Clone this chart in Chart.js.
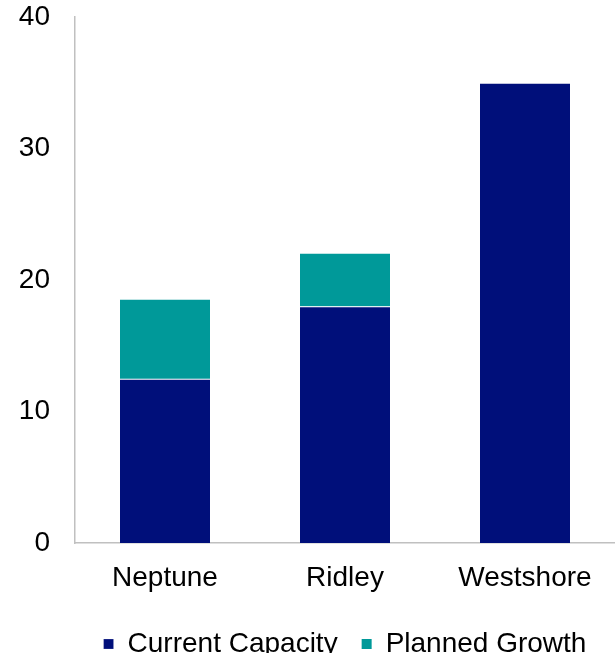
<!DOCTYPE html>
<html>
<head>
<meta charset="utf-8">
<script src="https://cdn.jsdelivr.net/npm/chart.js@4"></script>
<style>
  html, body { margin: 0; padding: 0; background: #fff; }
  #wrap { width: 615px; height: 653px; }
</style>
</head>
<body>
<div id="wrap"><canvas id="grafico"></canvas></div>
<script>
const categorias = ['Neptune', 'Ridley', 'Westshore'];
const capacidadeAtual = [12.5, 18, 35];
const crescimentoPlanejado = [6, 4, 0];
const ticksY = [0, 10, 20, 30, 40];

const fonte = { family: 'Arial, "Liberation Sans", sans-serif', size: 28 };

new Chart(document.getElementById('grafico'), {
  type: 'bar',
  data: {
    labels: categorias,
    datasets: [
      {
        label: 'Current Capacity',
        data: capacidadeAtual,
        backgroundColor: '#000F7A',
        borderColor: 'rgba(255,255,255,0.8)',
        borderWidth: { top: 1 },
        borderSkipped: false
      },
      {
        label: 'Planned Growth',
        data: crescimentoPlanejado,
        backgroundColor: '#009999',
        borderColor: 'rgba(255,255,255,0.8)',
        borderWidth: 0
      }
    ]
  },
  options: {
    responsive: true,
    maintainAspectRatio: false,
    animation: false,
    categoryPercentage: 1,
    barPercentage: 0.5,
    // a legenda fica meio cortada embaixo, como no original
    layout: { padding: { top: 0, right: 0, bottom: -15, left: 0 } },
    plugins: {
      tooltip: { enabled: false },
      legend: {
        position: 'bottom',
        fullSize: false,
        labels: {
          font: fonte,
          color: '#000',
          boxWidth: 10,
          boxHeight: 10,
          padding: 24
        }
      }
    },
    scales: {
      x: {
        stacked: true,
        afterFit: (eixo) => { eixo.height = 63; },
        grid: { display: false, drawTicks: false },
        border: { display: true, color: '#c0c0c0', width: 1.5 },
        ticks: { font: fonte, color: '#000', padding: 18 }
      },
      y: {
        stacked: true,
        min: 0,
        max: 40,
        afterBuildTicks: (eixo) => { eixo.ticks = ticksY.map(v => ({ value: v })); },
        afterFit: (eixo) => {
          eixo.width = 75;
          eixo.paddingTop = 17;
          eixo.paddingBottom = 0;
        },
        grid: { display: false, drawTicks: false },
        border: { display: true, color: '#c0c0c0', width: 1.5 },
        ticks: { font: fonte, color: '#000', padding: 25 }
      }
    }
  }
});
</script>
</body>
</html>
